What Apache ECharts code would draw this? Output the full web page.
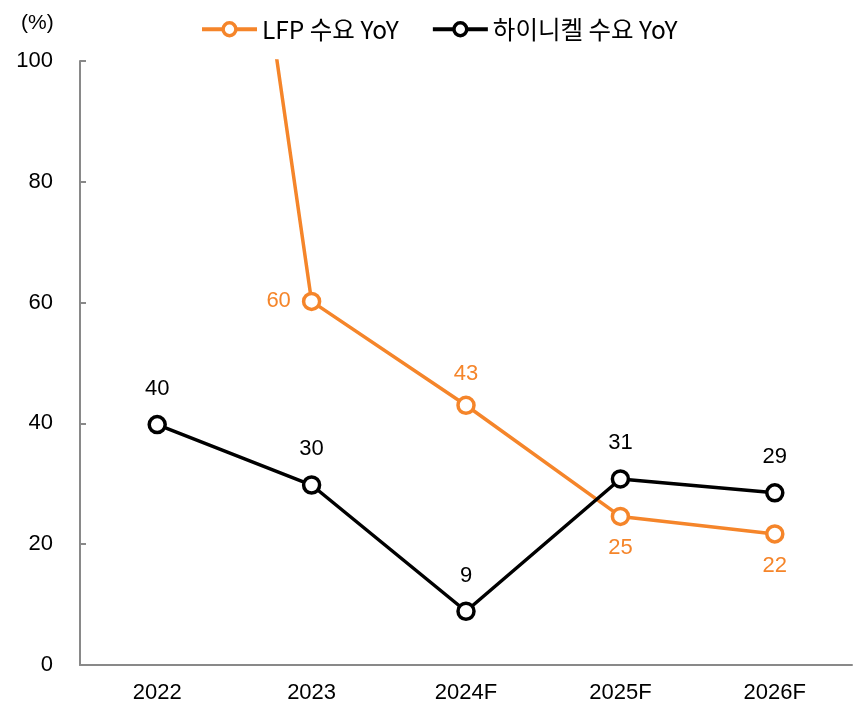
<!DOCTYPE html>
<html>
<head>
<meta charset="utf-8">
<script src="https://cdn.jsdelivr.net/npm/echarts@6/dist/echarts.min.js"></script>
<style>
  html, body { margin: 0; padding: 0; background: #fff; }
  #chart { width: 857px; height: 704px; }
</style>
</head>
<body>
<div id="chart"></div>
<script>
  const categories = ['2022', '2023', '2024F', '2025F', '2026F'];
  const lfpYoY = [238, 60.2, 43, 24.6, 21.7];
  const hiNiYoY = [39.8, 29.8, 8.9, 30.8, 28.5];
  const yTicks = [0, 20, 40, 60, 80, 100];

  const orange = '#F5852A';
  const font = '"Liberation Sans", Arial, "Noto Sans CJK KR", sans-serif';

  let myChart = echarts.init(document.getElementById('chart'));
  let option = {
    animation: false,
    title: {
      text: '(%)',
      left: 16,
      top: 8,
      textStyle: { fontFamily: font, fontSize: 21, fontWeight: 'normal', color: '#000' }
    },
    legend: {
      top: 12,
      left: 195,
      itemWidth: 55,
      itemHeight: 16,
      itemGap: 32,
      lineStyle: { width: 4 },
      itemStyle: { borderWidth: 3.5 },
      textStyle: { fontFamily: '"Noto Sans CJK KR", sans-serif', fontSize: 24.5, color: '#000' },
      data: ['LFP 수요 YoY', '하이니켈 수요 YoY']
    },
    grid: {
      left: 80,
      right: 5,
      top: 61,
      bottom: 39
    },
    xAxis: {
      type: 'category',
      data: categories,
      boundaryGap: true,
      axisLine: { lineStyle: { color: '#898989', width: 2 } },
      axisTick: { inside: true, length: 6, lineStyle: { color: '#898989', width: 2 } },
      axisLabel: { fontFamily: font, fontSize: 22, color: '#000', margin: 17 }
    },
    yAxis: {
      type: 'value',
      min: yTicks[0],
      max: yTicks[yTicks.length - 1],
      interval: 20,
      splitLine: { show: false },
      axisLine: { show: true, lineStyle: { color: '#898989', width: 2 } },
      axisTick: { show: true, inside: true, length: 6, lineStyle: { color: '#898989', width: 2 } },
      axisLabel: { fontFamily: font, fontSize: 22, color: '#000', margin: 27 }
    },
    series: [
      {
        name: 'LFP 수요 YoY',
        type: 'line',
        clip: true,
        data: lfpYoY.map(function (v, i) {
          let pos = ['top', 'left', 'top', 'bottom', 'bottom'][i];
          return { value: v, label: { show: i > 0, position: pos } };
        }),
        symbol: 'circle',
        symbolSize: 16,
        color: orange,
        lineStyle: { color: orange, width: 3.5 },
        itemStyle: { color: '#fff', borderColor: orange, borderWidth: 3.5 },
        label: {
          distance: 11,
          fontFamily: font,
          fontSize: 22,
          color: orange,
          formatter: function (p) { return Math.round(p.value); }
        }
      },
      {
        name: '하이니켈 수요 YoY',
        type: 'line',
        data: hiNiYoY,
        symbol: 'circle',
        symbolSize: 16,
        color: '#000',
        lineStyle: { color: '#000', width: 3.5 },
        itemStyle: { color: '#fff', borderColor: '#000', borderWidth: 3.5 },
        label: {
          show: true,
          position: 'top',
          distance: 15,
          fontFamily: font,
          fontSize: 22,
          color: '#000',
          formatter: function (p) { return Math.round(p.value); }
        }
      }
    ]
  };
  myChart.setOption(option);
</script>
</body>
</html>
